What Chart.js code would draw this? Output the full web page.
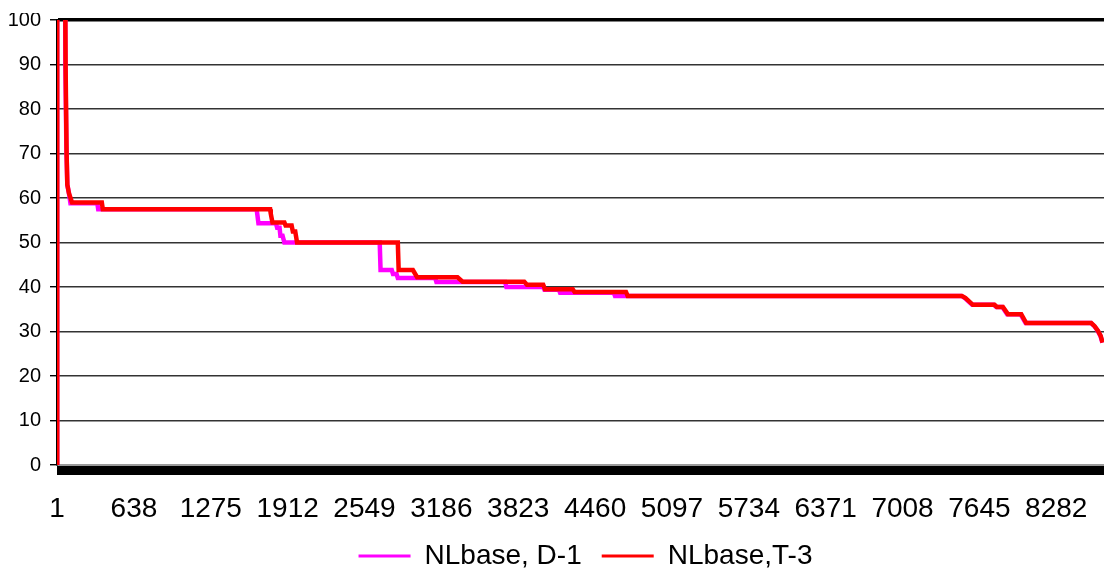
<!DOCTYPE html>
<html>
<head>
<meta charset="utf-8">
<title>NLbase load duration</title>
<script src="https://cdn.jsdelivr.net/npm/chart.js@4.4.1/dist/chart.umd.min.js"></script>
<style>
  html, body { margin: 0; padding: 0; background: #fff; overflow: hidden; width: 1104px; height: 569px; }
  #wrap { position: absolute; left: 0; top: 13px; width: 1114px; height: 567px; }
</style>
</head>
<body>
<div id="wrap"><canvas id="chart" width="1114" height="567"></canvas></div>
<script>
// Hour-of-year axis
const hoursInYear = 8760;
const hourTicks = [1, 638, 1275, 1912, 2549, 3186, 3823, 4460, 5097, 5734, 6371, 7008, 7645, 8282];

// NLbase, D-1: sorted hourly values, given at the hours where the level changes
const d1Hours = [1, 2, 66, 70, 78, 86, 100, 112, 335, 342,
  1655, 1662, 1670, 1815, 1825, 1845, 1852, 1870, 1885, 2675,
  2682, 2775, 2785, 2815, 2825, 3135, 3145, 3715, 3725, 4030,
  4040, 4160, 4170, 4615, 4625, 7495, 7525, 7585, 7765, 7785,
  7835, 7875, 7985, 8028, 8570, 8598, 8625, 8648, 8664];
const d1Load = [0, 120, 120, 90, 72, 63, 61, 58.8, 58.8, 57.5,
  57.5, 56, 54.3, 54.3, 53.3, 53.3, 51.5, 51.5, 50, 50,
  43.8, 43.8, 42.9, 42.9, 42, 42, 41.1, 41.1, 40, 40,
  39.4, 39.4, 38.7, 38.7, 38, 38, 37.5, 36, 36, 35.5,
  35.5, 33.9, 33.9, 31.9, 31.9, 31.2, 30.2, 29, 27.5];

// NLbase, T-3
const t3Hours = [1, 2, 66, 72, 80, 86, 100, 125, 372, 380,
  1767, 1772, 1786, 1885, 1895, 1945, 1955, 1975, 1990, 2825,
  2832, 2950, 2985, 3320, 3362, 3873, 3895, 4030, 4045, 4275,
  4290, 4716, 4730, 7500, 7530, 7591, 7770, 7790, 7840, 7881,
  7992, 8033, 8572, 8600, 8627, 8650, 8666];
const t3Load = [0, 120, 120, 89, 70, 63, 61, 59, 59, 57.5,
  57.5, 56.5, 54.5, 54.5, 53.8, 53.8, 52.5, 52.5, 50, 50,
  43.8, 43.8, 42.2, 42.2, 41.2, 41.2, 40.5, 40.5, 39.5, 39.5,
  38.9, 38.9, 38, 38, 37.5, 36, 36, 35.5, 35.5, 33.9,
  33.9, 31.9, 31.9, 31.2, 30.2, 29, 27.5];

const toPoints = (xs, ys) => xs.map((h, i) => ({ x: h, y: ys[i] }));

Chart.defaults.font.family = "'Liberation Sans', Arial, sans-serif";
Chart.defaults.color = '#000';

new Chart(document.getElementById('chart'), {
  type: 'line',
  data: {
    datasets: [
      {
        label: 'NLbase, D-1',
        data: toPoints(d1Hours, d1Load),
        borderColor: '#ff00ff',
        backgroundColor: '#ff00ff',
        borderWidth: 4.5,
        pointRadius: 0,
        tension: 0,
        clip: { left: 0, top: 0, right: 0, bottom: 0 },
        order: 2
      },
      {
        label: 'NLbase,T-3',
        data: toPoints(t3Hours, t3Load),
        borderColor: '#ff0000',
        backgroundColor: '#ff0000',
        borderWidth: 4.5,
        pointRadius: 0,
        tension: 0,
        clip: { left: 0, top: 0, right: 0, bottom: 0 },
        order: 1
      }
    ]
  },
  options: {
    responsive: false,
    animation: false,
    events: [],
    layout: { padding: { top: 7, right: 0, bottom: 0, left: 0 } },
    scales: {
      x: {
        type: 'linear',
        min: 0.5,
        max: hoursInYear + 0.5,
        afterBuildTicks: (scale) => {
          // one tick mark every few hours gives the dense band under the axis
          const values = new Set(hourTicks);
          for (let h = 1; h <= hoursInYear; h += 8) values.add(h);
          scale.ticks = [...values].sort((a, b) => a - b).map(v => ({ value: v }));
        },
        afterFit: (scale) => {
          scale.height = 57;
          scale.paddingLeft = 0;
          scale.paddingRight = 0;
        },
        grid: {
          drawOnChartArea: false,
          drawTicks: true,
          tickLength: 10,
          tickColor: '#000',
          tickWidth: 1
        },
        border: { display: true, color: '#9a9a9a', width: 2 },
        ticks: {
          autoSkip: false,
          maxRotation: 0,
          minRotation: 0,
          padding: 17,
          color: '#000',
          font: { size: 28 },
          callback: (value) => hourTicks.includes(value) ? String(value) : ''
        }
      },
      y: {
        min: 0,
        max: 100,
        afterFit: (scale) => {
          scale.width = 57;
          scale.paddingTop = 0;
          scale.paddingBottom = 0;
        },
        ticks: {
          stepSize: 10,
          padding: 9,
          color: '#000',
          font: { size: 20 }
        },
        grid: {
          color: (ctx) => {
            if (!ctx.tick) return '#333';
            if (ctx.tick.value === 0) return 'rgba(0,0,0,0)';
            if (ctx.tick.value === 100) return '#000';
            return '#333';
          },
          lineWidth: (ctx) => (ctx.tick && ctx.tick.value === 100) ? 3.5 : 1.4,
          tickColor: '#000',
          tickWidth: 1.4,
          tickLength: 7
        },
        border: { display: true, color: '#000', width: 2 }
      }
    },
    plugins: {
      tooltip: { enabled: false },
      legend: {
        position: 'bottom',
        fullSize: false,
        labels: {
          usePointStyle: true,
          pointStyle: 'line',
          pointStyleWidth: 52,
          padding: 20,
          color: '#000',
          font: { size: 28 },
          sort: (a, b) => a.datasetIndex - b.datasetIndex,
          generateLabels: (chart) =>
            Chart.defaults.plugins.legend.labels.generateLabels(chart).map(item => ({ ...item, lineWidth: 3 }))
        }
      }
    }
  }
});
</script>
</body>
</html>
